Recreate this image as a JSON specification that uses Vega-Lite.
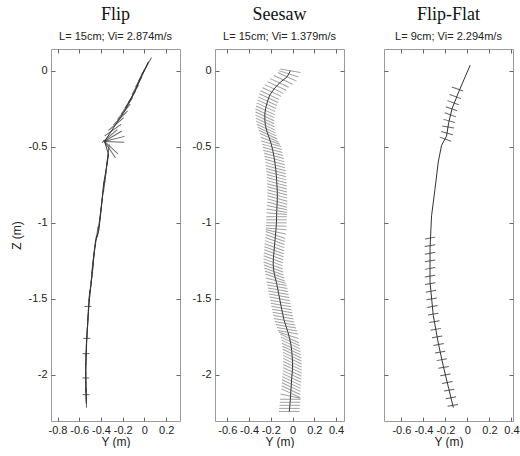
{
  "$schema": "https://vega.github.io/schema/vega-lite/v6.json",
  "background": "white",
  "padding": {"left": 9, "top": 5, "right": 0, "bottom": 0},
  "config": {
    "font": "Liberation Sans",
    "view": {"stroke": "#9a9a9a", "strokeWidth": 1},
    "axis": {"domain": false, "grid": false, "tickSize": -4, "tickColor": "#666666", "labelFont": "Liberation Sans", "labelFontSize": 11, "labelColor": "#222222", "titleFont": "Liberation Sans", "titleFontSize": 12, "titleFontWeight": "normal", "titleColor": "#222222", "labelOverlap": false, "labelFlush": false},
    "axisX": {"labelPadding": 7, "titlePadding": 1},
    "axisY": {"labelPadding": 8, "titlePadding": 5},
    "title": {"font": "Liberation Serif", "fontSize": 18, "fontWeight": "normal", "color": "#111111", "subtitleFont": "Liberation Sans", "subtitleFontSize": 11, "subtitleColor": "#222222", "subtitlePadding": 7, "offset": 7, "anchor": "middle"}
  },
  "datasets": {
    "flipPath": [{"y":0.037,"z":0.06},{"y":-0.085,"z":-0.13},{"y":-0.177,"z":-0.26},{"y":-0.28,"z":-0.37},{"y":-0.367,"z":-0.465},{"y":-0.33,"z":-0.55},{"y":-0.35,"z":-0.64},{"y":-0.376,"z":-0.745},{"y":-0.39,"z":-0.855},{"y":-0.42,"z":-1.05},{"y":-0.45,"z":-1.12},{"y":-0.48,"z":-1.32},{"y":-0.51,"z":-1.53},{"y":-0.53,"z":-1.75},{"y":-0.54,"z":-1.97},{"y":-0.535,"z":-2.19}],
    "flipSeg": [
      {"y":0.02,"z":0.03,"a":-60},{"y":-0.01,"z":-0.01,"a":-62},{"y":-0.04,"z":-0.05,"a":-63},{"y":-0.07,"z":-0.1,"a":-61},{"y":-0.1,"z":-0.15,"a":-60},{"y":-0.13,"z":-0.19,"a":-58},{"y":-0.16,"z":-0.23,"a":-55},{"y":-0.19,"z":-0.27,"a":-50},{"y":-0.22,"z":-0.31,"a":-45},{"y":-0.26,"z":-0.35,"a":-40},{"y":-0.29,"z":-0.39,"a":-35},{"y":-0.32,"z":-0.43,"a":-40},
      {"y":-0.2875,"z":-0.43,"a":-31},{"y":-0.272,"z":-0.4475,"a":-14},{"y":-0.2785,"z":-0.4675,"a":2},{"y":-0.31,"z":-0.5025,"a":43},{"y":-0.3185,"z":-0.5175,"a":56},
      {"y":-0.335,"z":-0.55,"a":-83},{"y":-0.345,"z":-0.61,"a":-83},{"y":-0.355,"z":-0.67,"a":-83},{"y":-0.365,"z":-0.73,"a":-83},{"y":-0.38,"z":-0.79,"a":-83},{"y":-0.39,"z":-0.85,"a":-83},{"y":-0.4,"z":-0.91,"a":-83},{"y":-0.41,"z":-0.97,"a":-82},{"y":-0.42,"z":-1.03,"a":-82},{"y":-0.44,"z":-1.09,"a":-82},{"y":-0.455,"z":-1.15,"a":-82},{"y":-0.465,"z":-1.21,"a":-82},{"y":-0.475,"z":-1.27,"a":-82},{"y":-0.48,"z":-1.33,"a":-82},{"y":-0.49,"z":-1.39,"a":-82},{"y":-0.5,"z":-1.45,"a":-82},{"y":-0.51,"z":-1.51,"a":-86},{"y":-0.515,"z":-1.57,"a":-86},{"y":-0.52,"z":-1.63,"a":-87},{"y":-0.525,"z":-1.69,"a":-87},{"y":-0.53,"z":-1.75,"a":-87},{"y":-0.535,"z":-1.81,"a":-88},{"y":-0.537,"z":-1.87,"a":-88},{"y":-0.54,"z":-1.93,"a":-89},{"y":-0.54,"z":-1.99,"a":-90},{"y":-0.54,"z":-2.05,"a":-90},{"y":-0.538,"z":-2.11,"a":-91},{"y":-0.535,"z":-2.15,"a":-91}
    ],
    "flipTick": [{"y":-0.52,"z":-1.55,"a":0},{"y":-0.53,"z":-1.76,"a":0},{"y":-0.537,"z":-1.86,"a":0},{"y":-0.54,"z":-2.02,"a":0},{"y":-0.537,"z":-2.13,"a":0}],
    "seePath": [{"y":-0.02,"z":0.0},{"y":-0.05,"z":-0.04},{"y":-0.12,"z":-0.08},{"y":-0.17,"z":-0.12},{"y":-0.21,"z":-0.16},{"y":-0.23,"z":-0.2},{"y":-0.245,"z":-0.24},{"y":-0.255,"z":-0.28},{"y":-0.255,"z":-0.32},{"y":-0.25,"z":-0.36},{"y":-0.235,"z":-0.4},{"y":-0.215,"z":-0.44},{"y":-0.197,"z":-0.48},{"y":-0.183,"z":-0.52},{"y":-0.172,"z":-0.56},{"y":-0.163,"z":-0.6},{"y":-0.156,"z":-0.64},{"y":-0.15,"z":-0.68},{"y":-0.146,"z":-0.72},{"y":-0.143,"z":-0.76},{"y":-0.14,"z":-0.8},{"y":-0.14,"z":-0.84},{"y":-0.142,"z":-0.88},{"y":-0.145,"z":-0.92},{"y":-0.147,"z":-0.96},{"y":-0.148,"z":-1.0},{"y":-0.152,"z":-1.04},{"y":-0.157,"z":-1.08},{"y":-0.162,"z":-1.12},{"y":-0.167,"z":-1.16},{"y":-0.172,"z":-1.2},{"y":-0.177,"z":-1.24},{"y":-0.178,"z":-1.28},{"y":-0.172,"z":-1.32},{"y":-0.16,"z":-1.36},{"y":-0.146,"z":-1.4},{"y":-0.135,"z":-1.44},{"y":-0.124,"z":-1.48},{"y":-0.113,"z":-1.52},{"y":-0.102,"z":-1.56},{"y":-0.09,"z":-1.6},{"y":-0.078,"z":-1.64},{"y":-0.06,"z":-1.68},{"y":-0.042,"z":-1.72},{"y":-0.027,"z":-1.76},{"y":-0.015,"z":-1.8},{"y":-0.008,"z":-1.84},{"y":-0.003,"z":-1.88},{"y":0.0,"z":-1.92},{"y":0.0,"z":-1.96},{"y":-0.005,"z":-2.0},{"y":-0.01,"z":-2.04},{"y":-0.013,"z":-2.08},{"y":-0.017,"z":-2.12},{"y":-0.02,"z":-2.16},{"y":-0.025,"z":-2.2},{"y":-0.03,"z":-2.24}],
    "seeSeg": [{"y":-0.02,"z":0.0,"a":10},{"y":-0.05,"z":-0.04,"a":25},{"y":-0.12,"z":-0.08,"a":25},{"y":-0.17,"z":-0.12,"a":25},{"y":-0.21,"z":-0.16,"a":25},{"y":-0.23,"z":-0.2,"a":25},{"y":-0.245,"z":-0.24,"a":25},{"y":-0.255,"z":-0.28,"a":25},{"y":-0.255,"z":-0.32,"a":25},{"y":-0.25,"z":-0.36,"a":25},{"y":-0.235,"z":-0.4,"a":25},{"y":-0.215,"z":-0.44,"a":25},{"y":-0.197,"z":-0.48,"a":15},{"y":-0.183,"z":-0.52,"a":15},{"y":-0.172,"z":-0.56,"a":15},{"y":-0.163,"z":-0.6,"a":15},{"y":-0.156,"z":-0.64,"a":15},{"y":-0.15,"z":-0.68,"a":15},{"y":-0.146,"z":-0.72,"a":15},{"y":-0.143,"z":-0.76,"a":15},{"y":-0.14,"z":-0.8,"a":15},{"y":-0.14,"z":-0.84,"a":15},{"y":-0.142,"z":-0.88,"a":15},{"y":-0.145,"z":-0.92,"a":10},{"y":-0.147,"z":-0.96,"a":0},{"y":-0.148,"z":-1.0,"a":0},{"y":-0.152,"z":-1.04,"a":5},{"y":-0.157,"z":-1.08,"a":20},{"y":-0.162,"z":-1.12,"a":20},{"y":-0.167,"z":-1.16,"a":20},{"y":-0.172,"z":-1.2,"a":20},{"y":-0.177,"z":-1.24,"a":20},{"y":-0.178,"z":-1.28,"a":20},{"y":-0.172,"z":-1.32,"a":20},{"y":-0.16,"z":-1.36,"a":20},{"y":-0.146,"z":-1.4,"a":10},{"y":-0.135,"z":-1.44,"a":10},{"y":-0.124,"z":-1.48,"a":10},{"y":-0.113,"z":-1.52,"a":10},{"y":-0.102,"z":-1.56,"a":10},{"y":-0.09,"z":-1.6,"a":10},{"y":-0.078,"z":-1.64,"a":10},{"y":-0.06,"z":-1.68,"a":10},{"y":-0.042,"z":-1.72,"a":10},{"y":-0.027,"z":-1.76,"a":25},{"y":-0.015,"z":-1.8,"a":25},{"y":-0.008,"z":-1.84,"a":25},{"y":-0.003,"z":-1.88,"a":25},{"y":0.0,"z":-1.92,"a":25},{"y":0.0,"z":-1.96,"a":25},{"y":-0.005,"z":-2.0,"a":25},{"y":-0.01,"z":-2.04,"a":25},{"y":-0.013,"z":-2.08,"a":25},{"y":-0.017,"z":-2.12,"a":25},{"y":-0.02,"z":-2.16,"a":0},{"y":-0.025,"z":-2.2,"a":0},{"y":-0.03,"z":-2.24,"a":0},
      {"y":-0.035,"z":-0.02,"a":18},{"y":-0.085,"z":-0.06,"a":25},{"y":-0.145,"z":-0.1,"a":25},{"y":-0.19,"z":-0.14,"a":25},{"y":-0.22,"z":-0.18,"a":25},{"y":-0.238,"z":-0.22,"a":25},{"y":-0.25,"z":-0.26,"a":25},{"y":-0.255,"z":-0.3,"a":25},{"y":-0.253,"z":-0.34,"a":25},{"y":-0.243,"z":-0.38,"a":25},{"y":-0.225,"z":-0.42,"a":25},{"y":-0.206,"z":-0.46,"a":20},{"y":-0.19,"z":-0.5,"a":15},{"y":-0.178,"z":-0.54,"a":15},{"y":-0.168,"z":-0.58,"a":15},{"y":-0.16,"z":-0.62,"a":15},{"y":-0.153,"z":-0.66,"a":15},{"y":-0.148,"z":-0.7,"a":15},{"y":-0.145,"z":-0.74,"a":15},{"y":-0.142,"z":-0.78,"a":15},{"y":-0.14,"z":-0.82,"a":15},{"y":-0.141,"z":-0.86,"a":15},{"y":-0.144,"z":-0.9,"a":12},{"y":-0.146,"z":-0.94,"a":5},{"y":-0.148,"z":-0.98,"a":0},{"y":-0.15,"z":-1.02,"a":2},{"y":-0.155,"z":-1.06,"a":12},{"y":-0.16,"z":-1.1,"a":20},{"y":-0.165,"z":-1.14,"a":20},{"y":-0.17,"z":-1.18,"a":20},{"y":-0.175,"z":-1.22,"a":20},{"y":-0.178,"z":-1.26,"a":20},{"y":-0.175,"z":-1.3,"a":20},{"y":-0.166,"z":-1.34,"a":20},{"y":-0.153,"z":-1.38,"a":15},{"y":-0.14,"z":-1.42,"a":10},{"y":-0.13,"z":-1.46,"a":10},{"y":-0.118,"z":-1.5,"a":10},{"y":-0.108,"z":-1.54,"a":10},{"y":-0.096,"z":-1.58,"a":10},{"y":-0.084,"z":-1.62,"a":10},{"y":-0.069,"z":-1.66,"a":10},{"y":-0.051,"z":-1.7,"a":10},{"y":-0.035,"z":-1.74,"a":18},{"y":-0.021,"z":-1.78,"a":25},{"y":-0.012,"z":-1.82,"a":25},{"y":-0.005,"z":-1.86,"a":25},{"y":-0.001,"z":-1.9,"a":25},{"y":0.0,"z":-1.94,"a":25},{"y":-0.003,"z":-1.98,"a":25},{"y":-0.008,"z":-2.02,"a":25},{"y":-0.012,"z":-2.06,"a":25},{"y":-0.015,"z":-2.1,"a":25},{"y":-0.019,"z":-2.14,"a":12},{"y":-0.023,"z":-2.18,"a":0},{"y":-0.028,"z":-2.22,"a":0}],
    "flatPath": [{"y":0.025,"z":0.037},{"y":-0.08,"z":-0.14},{"y":-0.14,"z":-0.25},{"y":-0.17,"z":-0.34},{"y":-0.19,"z":-0.43},{"y":-0.235,"z":-0.49},{"y":-0.265,"z":-0.6},{"y":-0.295,"z":-0.78},{"y":-0.326,"z":-0.954},{"y":-0.34,"z":-1.17},{"y":-0.34,"z":-1.39},{"y":-0.31,"z":-1.61},{"y":-0.265,"z":-1.79},{"y":-0.22,"z":-1.94},{"y":-0.17,"z":-2.09},{"y":-0.128,"z":-2.215}],
    "flatHatch": [{"y":-0.09,"z":-0.12,"a":20},{"y":-0.11,"z":-0.17,"a":20},{"y":-0.13,"z":-0.21,"a":20},{"y":-0.145,"z":-0.25,"a":20},{"y":-0.155,"z":-0.29,"a":20},{"y":-0.165,"z":-0.33,"a":15},{"y":-0.175,"z":-0.37,"a":10},{"y":-0.185,"z":-0.41,"a":15},{"y":-0.2,"z":-0.45,"a":20}],
    "flatBar": [{"y":-0.338,"z":-1.1,"a":-10},{"y":-0.34,"z":-1.15,"a":-10},{"y":-0.34,"z":-1.2,"a":-10},{"y":-0.34,"z":-1.25,"a":-10},{"y":-0.34,"z":-1.3,"a":-10},{"y":-0.34,"z":-1.35,"a":-10},{"y":-0.338,"z":-1.4,"a":-10},{"y":-0.332,"z":-1.45,"a":-10},{"y":-0.325,"z":-1.5,"a":-10},{"y":-0.318,"z":-1.55,"a":-10},{"y":-0.311,"z":-1.6,"a":-10},{"y":-0.3,"z":-1.65,"a":-10},{"y":-0.288,"z":-1.7,"a":-10},{"y":-0.275,"z":-1.75,"a":-10},{"y":-0.262,"z":-1.8,"a":-10},{"y":-0.248,"z":-1.85,"a":-10},{"y":-0.233,"z":-1.9,"a":-10},{"y":-0.217,"z":-1.95,"a":-10},{"y":-0.2,"z":-2.0,"a":-10},{"y":-0.183,"z":-2.05,"a":-10},{"y":-0.166,"z":-2.1,"a":-10},{"y":-0.15,"z":-2.15,"a":-10},{"y":-0.133,"z":-2.2,"a":-10}]
  },
  "spacing": 38,
  "hconcat": [
    {
      "spacing": 10,
      "hconcat": [
        {
          "width": 129, "height": 372,
          "title": {"text": "Flip", "subtitle": "L= 15cm; Vi= 2.874m/s"},
          "layer": [
            {"data": {"name": "flipPath"}, "mark": {"type": "line", "color": "#333333", "strokeWidth": 1},
             "encoding": {
               "x": {"field": "y", "type": "quantitative", "scale": {"domain": [-0.86, 0.3275], "nice": false, "zero": false}, "axis": {"orient": "bottom", "values": [-0.8,-0.6,-0.4,-0.2,0,0.2], "title": "Y (m)", "labelExpr": "'' + datum.value"}},
               "y": {"field": "z", "type": "quantitative", "scale": {"domain": [-2.303, 0.143], "nice": false, "zero": false}, "axis": {"orient": "left", "values": [-2,-1.5,-1,-0.5,0], "title": "Z (m)", "labelExpr": "'' + datum.value"}},
               "order": {"field": "z", "sort": "descending"}
             }},
            {"data": {"name": "flipSeg"}, "mark": {"type": "point", "shape": "stroke", "size": 400, "strokeWidth": 1, "color": "#333333", "filled": false, "opacity": 0.75},
             "encoding": {
               "x": {"field": "y", "type": "quantitative", "axis": {"orient": "top", "values": [-0.8,-0.6,-0.4,-0.2,0,0.2], "labels": false, "title": null}},
               "y": {"field": "z", "type": "quantitative", "axis": {"orient": "right", "values": [-2,-1.5,-1,-0.5,0], "labels": false, "title": null}},
               "angle": {"field": "a", "type": "quantitative", "scale": null}
             }},
            {"data": {"name": "flipTick"}, "mark": {"type": "point", "shape": "stroke", "size": 49, "strokeWidth": 1, "color": "#333333", "filled": false, "opacity": 0.75},
             "encoding": {
               "x": {"field": "y", "type": "quantitative", "axis": null},
               "y": {"field": "z", "type": "quantitative", "axis": null},
               "angle": {"field": "a", "type": "quantitative", "scale": null}
             }}
          ],
          "resolve": {"axis": {"x": "independent", "y": "independent"}}
        },
        {
          "width": 129, "height": 372,
          "title": {"text": "Seesaw", "subtitle": "L= 15cm; Vi= 1.379m/s"},
          "layer": [
            {"data": {"name": "seePath"}, "mark": {"type": "line", "color": "#333333", "strokeWidth": 1},
             "encoding": {
               "x": {"field": "y", "type": "quantitative", "scale": {"domain": [-0.713, 0.473], "nice": false, "zero": false}, "axis": {"orient": "bottom", "values": [-0.6,-0.4,-0.2,0,0.2,0.4], "title": "Y (m)", "labelExpr": "'' + datum.value"}},
               "y": {"field": "z", "type": "quantitative", "scale": {"domain": [-2.303, 0.143], "nice": false, "zero": false}, "axis": {"orient": "left", "values": [-2,-1.5,-1,-0.5,0], "title": null, "labelExpr": "'' + datum.value"}},
               "order": {"field": "z", "sort": "descending"}
             }},
            {"data": {"name": "seeSeg"}, "mark": {"type": "point", "shape": "stroke", "size": 420, "strokeWidth": 1, "color": "#555555", "filled": false, "opacity": 0.55},
             "encoding": {
               "x": {"field": "y", "type": "quantitative", "axis": {"orient": "top", "values": [-0.6,-0.4,-0.2,0,0.2,0.4], "labels": false, "title": null}},
               "y": {"field": "z", "type": "quantitative", "axis": {"orient": "right", "values": [-2,-1.5,-1,-0.5,0], "labels": false, "title": null}},
               "angle": {"field": "a", "type": "quantitative", "scale": null}
             }}
          ],
          "resolve": {"axis": {"x": "independent", "y": "independent"}}
        }
      ]
    },
    {
      "width": 129, "height": 372,
      "title": {"text": "Flip-Flat", "subtitle": "L= 9cm; Vi= 2.294m/s"},
      "layer": [
        {"data": {"name": "flatPath"}, "mark": {"type": "line", "color": "#333333", "strokeWidth": 1},
         "encoding": {
           "x": {"field": "y", "type": "quantitative", "scale": {"domain": [-0.758, 0.414], "nice": false, "zero": false}, "axis": {"orient": "bottom", "values": [-0.6,-0.4,-0.2,0,0.2,0.4], "title": "Y (m)", "labelExpr": "'' + datum.value"}},
           "y": {"field": "z", "type": "quantitative", "scale": {"domain": [-2.303, 0.143], "nice": false, "zero": false}, "axis": {"orient": "left", "values": [-2,-1.5,-1,-0.5,0], "title": null, "labels": false}},
           "order": {"field": "z", "sort": "descending"}
         }},
        {"data": {"name": "flatHatch"}, "mark": {"type": "point", "shape": "stroke", "size": 144, "strokeWidth": 1, "color": "#333333", "filled": false, "opacity": 0.75},
         "encoding": {
           "x": {"field": "y", "type": "quantitative", "axis": {"orient": "top", "values": [-0.6,-0.4,-0.2,0,0.2,0.4], "labels": false, "title": null}},
           "y": {"field": "z", "type": "quantitative", "axis": {"orient": "right", "values": [-2,-1.5,-1,-0.5,0], "labels": false, "title": null}},
           "angle": {"field": "a", "type": "quantitative", "scale": null}
         }},
        {"data": {"name": "flatBar"}, "mark": {"type": "point", "shape": "stroke", "size": 110, "strokeWidth": 1, "color": "#333333", "filled": false, "opacity": 0.8},
         "encoding": {
           "x": {"field": "y", "type": "quantitative", "axis": null},
           "y": {"field": "z", "type": "quantitative", "axis": null},
           "angle": {"field": "a", "type": "quantitative", "scale": null}
         }}
      ],
      "resolve": {"axis": {"x": "independent", "y": "independent"}}
    }
  ]
}
